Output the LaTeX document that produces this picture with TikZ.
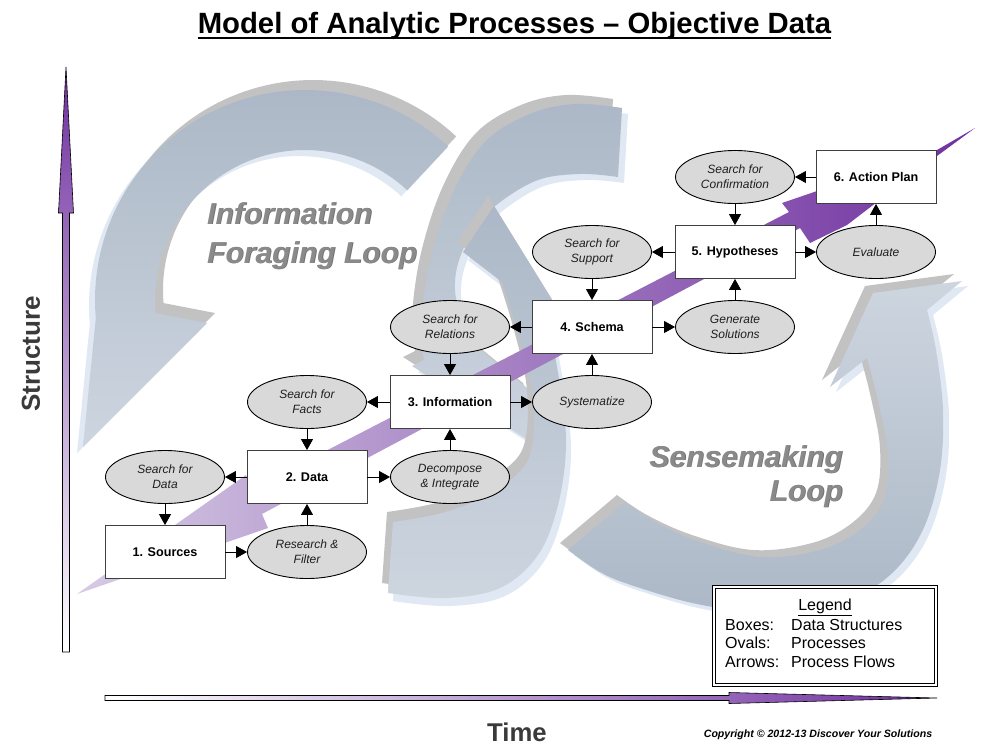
\documentclass[tikz,border=0pt]{standalone}
\usepackage{fontspec}
\setmainfont{Liberation Sans}
\usetikzlibrary{shapes.geometric,arrows.meta,calc}
\definecolor{purp}{HTML}{7030A0}
\definecolor{lav}{HTML}{D6CBE4}
\definecolor{rimgray}{HTML}{C2C2C2}
\definecolor{rimblue}{HTML}{DFE8F3}
\definecolor{bodytop}{HTML}{ACB8C7}
\definecolor{bodybot}{HTML}{CDD5DF}
\definecolor{ovalfill}{HTML}{D9D9D9}
\definecolor{boxline}{HTML}{404040}
\definecolor{labgray}{HTML}{8A8A8A}
\definecolor{labshadow}{HTML}{707070}
\definecolor{axistext}{HTML}{3A3A3A}

\newcommand\pathLA{plot[domain=0:138,samples=70] ({305+210*cos(-47-\x)},{300+210*sin(-47-\x)}) -- (83,447) -- (207,323) -- plot[domain=0:138,samples=70] ({305+150*cos(-185+\x)},{300+150*sin(-185+\x)}) -- cycle}
\newcommand\pathLB{plot[smooth,tension=0.6] coordinates {(388,593) (445,598) (500,588) (538,555) (558,505) (566,445) (560,385) (546,308)} -- (562,316) -- (494,206) -- (463,252) -- plot[smooth,tension=0.6] coordinates {(502,282) (520,340) (533,400) (530,455) (508,482) (478,500) (438,514) (393,522)} -- cycle}
\newcommand\pathRC{plot[smooth,tension=0.6] coordinates {(622,108) (575,104) (530,114) (485,142) (452,195) (430,262) (421,325) (424,360)} -- (412,366) -- (556,458) -- (532,392) -- plot[smooth,tension=0.6] coordinates {(466,338) (455,290) (462,252) (485,215) (533,182) (578,174) (618,177)} -- cycle}
\newcommand\pathRD{plot[smooth,tension=0.6] coordinates {(568,550) (600,572) (634,586) (697,604) (761,612) (824,607) (866,592) (900,565) (925,525) (940,470) (943,410) (936,350) (927,310)} -- (962,281) -- (873,293) -- (830,387) -- plot[smooth,tension=0.6] coordinates {(867,358) (879,405) (888,455) (884,500) (860,530) (820,550) (761,557) (700,542) (655,522) (625,502)} -- cycle}

\newcommand\ribbon[4]{%
  \fill[rimblue,shift={(#3)}] #1;
  \fill[rimgray,shift={(#2)}] #1;
  \shade[#4] #1;}

\newcommand\shtext[4]{%
  \node[looplab, text=labshadow, anchor=#2] (#1s) at ($(#3)+(0.9,0.9)$) {#4};
  \node[looplab, text=labgray, anchor=#2] (#1) at (#3) {#4};}

\begin{document}
\begin{tikzpicture}[x=1pt,y=-1pt,
  box/.style={draw=boxline, line width=0.9pt, fill=white, minimum width=120pt, minimum height=53pt, inner sep=1pt, font=\bfseries\fontsize{12.6}{15}\selectfont},
  oval/.style={ellipse, draw=black, line width=0.9pt, fill=ovalfill, minimum width=119pt, minimum height=53pt, inner sep=0pt, align=center, font=\itshape\fontsize{12}{15}\selectfont, text=black!88},
  flow/.style={line width=0.9pt, -{Triangle[length=11pt,width=12pt]}},
  looplab/.style={font=\bfseries\itshape\fontsize{30}{36}\selectfont, inner sep=0pt},
  legtext/.style={font=\fontsize{16}{19}\selectfont, inner sep=0pt}
]
\useasboundingbox[fill=white] (0,0) rectangle (993,748);

% loops
\ribbon{\pathLA}{8,-10}{-6,6}{top color=bodytop, bottom color=bodybot}
\ribbon{\pathRC}{-9,-9}{6,6}{top color=bodytop, bottom color=bodybot}
\ribbon{\pathLB}{-6,-10}{5,8}{top color=bodytop, bottom color=bodybot}
\ribbon{\pathRD}{-8,-7}{6,5}{top color=bodybot, bottom color=bodytop}

% loop labels
\shtext{lab1}{base west}{207,224}{Information}
\shtext{lab2}{base west}{207,263}{Foraging Loop}
\shtext{lab3}{base east}{843,467}{Sensemaking}
\shtext{lab4}{base east}{843,501}{Loop}

% big diagonal arrow
\shade[left color=lav, right color=purp] (77,594) -- (246,475) -- (252,489) -- (789,212) -- (782,203) -- (937,150) -- (975,128) -- (937,156) -- (847,225) -- (810,243) -- (800,228) -- (262,514) -- (268,528) -- cycle;

% axes
\shade[top color=purp, bottom color=white, draw=black, line width=0.6pt] (62.5,652) -- (62.5,213) -- (58.5,213) -- (66,67) -- (73.5,213) -- (69.5,213) -- (69.5,652) -- cycle;
\shade[left color=white, right color=purp, draw=black, line width=0.6pt] (105,695.5) -- (729,695.5) -- (729,692.5) -- (937,698) -- (729,703.5) -- (729,700.5) -- (105,700.5) -- cycle;

% title and axis labels
\node[font=\bfseries\fontsize{29.3}{35}\selectfont, anchor=base, inner sep=0pt] (title) at (514.5,33) {Model of Analytic Processes – Objective Data};
\draw[line width=2pt] ($(title.base west)+(0,4.5)$) -- ($(title.base east)+(0,4.5)$);
\node[font=\bfseries\fontsize{26}{30}\selectfont, text=axistext, rotate=90] (ylab) at (31,354) {Structure};
\node[font=\bfseries\fontsize{25.7}{30}\selectfont, text=axistext] (xlab) at (517,732) {Time};
\node[font=\bfseries\itshape\fontsize{10.6}{12}\selectfont] (copy) at (818,735) {Copyright © 2012-13 Discover Your Solutions};

% legend
\node[draw=black, double=white, double distance=2.2pt, line width=1pt, fill=white, minimum width=222pt, minimum height=98pt, inner sep=0pt] (legend) at (825,636) {};
\node[legtext, anchor=base] (legt) at (825,610) {\underline{Legend}};
\node[legtext, anchor=base west] (lk1) at (725,630) {Boxes:};
\node[legtext, anchor=base west] (lv1) at (791,630) {Data Structures};
\node[legtext, anchor=base west] (lk2) at (725,648) {Ovals:};
\node[legtext, anchor=base west] (lv2) at (791,648) {Processes};
\node[legtext, anchor=base west] (lk3) at (725,667) {Arrows:};
\node[legtext, anchor=base west] (lv3) at (791,667) {Process Flows};

% boxes
\node[box] (src) at (165,552) {1. Sources};
\node[box] (dat) at (307,477) {2. Data};
\node[box] (inf) at (450,402) {3. Information};
\node[box] (sch) at (592,327) {4. Schema};
\node[box] (hyp) at (735,252) {5. Hypotheses};
\node[box] (act) at (876,177) {6. Action Plan};

% ovals
\node[oval] (sdat) at (165,477) {Search for\\Data};
\node[oval] (resf) at (307,552) {Research \&\\Filter};
\node[oval] (sfac) at (307,402) {Search for\\Facts};
\node[oval] (dec) at (450,477) {Decompose\\\& Integrate};
\node[oval] (srel) at (450,327) {Search for\\Relations};
\node[oval] (sys) at (592,402) {Systematize};
\node[oval] (ssup) at (592,252) {Search for\\Support};
\node[oval] (gen) at (735,327) {Generate\\Solutions};
\node[oval] (scon) at (735,177) {Search for\\Confirmation};
\node[oval] (eval) at (876,252) {Evaluate};

% flows
\draw[flow] (dat.west) -- (sdat.east);
\draw[flow] (sdat.south) -- (src.north);
\draw[flow] (src.east) -- (resf.west);
\draw[flow] (resf.north) -- (dat.south);
\draw[flow] (inf.west) -- (sfac.east);
\draw[flow] (sfac.south) -- (dat.north);
\draw[flow] (dat.east) -- (dec.west);
\draw[flow] (dec.north) -- (inf.south);
\draw[flow] (sch.west) -- (srel.east);
\draw[flow] (srel.south) -- (inf.north);
\draw[flow] (inf.east) -- (sys.west);
\draw[flow] (sys.north) -- (sch.south);
\draw[flow] (hyp.west) -- (ssup.east);
\draw[flow] (ssup.south) -- (sch.north);
\draw[flow] (sch.east) -- (gen.west);
\draw[flow] (gen.north) -- (hyp.south);
\draw[flow] (act.west) -- (scon.east);
\draw[flow] (scon.south) -- (hyp.north);
\draw[flow] (hyp.east) -- (eval.west);
\draw[flow] (eval.north) -- (act.south);
\end{tikzpicture}
\end{document}
